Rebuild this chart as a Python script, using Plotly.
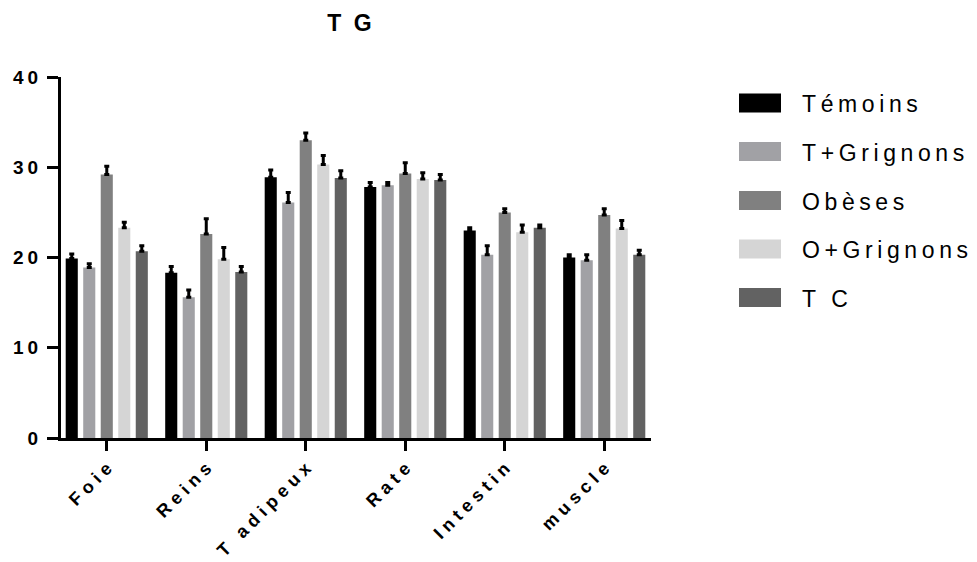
import plotly.graph_objects as go

categories = ["Foie", "Reins", "T adipeux", "Rate", "Intestin", "muscle"]
series_names = ["Témoins", "T+Grignons", "Obèses", "O+Grignons", "T C"]
colors = ["#000000", "#A1A1A5", "#808080", "#D5D5D5", "#626262"]
y_ticks = [0, 10, 20, 30, 40]
title_text = "T G"

temoins = [19.9, 18.3, 28.9, 27.8, 23.0, 20.0]
t_grignons = [18.9, 15.6, 26.1, 28.0, 20.3, 19.7]
obeses = [29.2, 22.6, 33.0, 29.3, 25.0, 24.7]
o_grignons = [23.3, 19.8, 30.3, 28.7, 22.8, 23.2]
tc = [20.7, 18.4, 28.8, 28.6, 23.3, 20.3]

temoins_err = [0.5, 0.7, 0.8, 0.5, 0.3, 0.3]
t_grignons_err = [0.4, 0.8, 1.1, 0.3, 1.0, 0.6]
obeses_err = [0.9, 1.7, 0.8, 1.2, 0.4, 0.7]
o_grignons_err = [0.6, 1.3, 1.0, 0.7, 0.8, 0.9]
tc_err = [0.6, 0.6, 0.8, 0.6, 0.3, 0.5]

values = [temoins, t_grignons, obeses, o_grignons, tc]
errors = [temoins_err, t_grignons_err, obeses_err, o_grignons_err, tc_err]

W, H = 977, 562
L, R, T, B = 61, 326, 77, 124
FONT = "Liberation Sans, Arial, sans-serif"


def spaced(s, px):
    # letter-spacing on all but the last glyph (no trailing gap)
    if len(s) < 2:
        return s
    return f'<span style="letter-spacing:{px}px">{s[:-1]}</span>{s[-1]}'


fig = go.Figure()
for name, col, vals, errs in zip(series_names, colors, values, errors):
    fig.add_trace(go.Bar(
        name=name, x=categories, y=vals,
        marker=dict(color=col, line=dict(width=0)),
        error_y=dict(type="data", symmetric=False, array=errs,
                     arrayminus=[0] * len(errs), color="black",
                     thickness=3, width=2.5),
        showlegend=False,
    ))

# custom legend (wide rectangular swatches like the reference)
pw = W - L - R
ph = H - T - B


def px2paper_x(px):
    return (px - L) / pw


def px2paper_y(py):
    return (H - B - py) / ph


legend_y = [103, 151.5, 200.5, 249, 297.5]
for name, col, cy in zip(series_names, colors, legend_y):
    fig.add_shape(type="rect", xref="paper", yref="paper",
                  x0=px2paper_x(739), x1=px2paper_x(781),
                  y0=px2paper_y(cy - 9.5), y1=px2paper_y(cy + 9.5),
                  fillcolor=col, line=dict(width=0))
    fig.add_annotation(xref="paper", yref="paper",
                       x=px2paper_x(800), y=px2paper_y(cy + 1),
                       xanchor="left", yanchor="middle", showarrow=False,
                       text=spaced(name, 4.6),
                       font=dict(family=FONT, size=23, color="black"))

fig.update_layout(
    width=W, height=H,
    margin=dict(l=L, r=R, t=T, b=B, autoexpand=False),
    paper_bgcolor="white", plot_bgcolor="white",
    barmode="group", bargap=0.12, bargroupgap=0.31,
    title=dict(text="<b>" + spaced(title_text, 3) + "</b>", x=px2paper_x(349.5),
               xref="paper", xanchor="center", y=1 - 23 / H, yanchor="middle",
               font=dict(family=FONT, size=23, color="black")),
    font=dict(family=FONT, color="black"),
)
fig.update_xaxes(
    type="category", range=[-0.46, 5.47],
    tickvals=categories, ticktext=[spaced(c, 5) for c in categories],
    showline=True, linecolor="black", linewidth=3,
    ticks="outside", ticklen=10, tickwidth=3, tickcolor="black",
    tickangle=-45, tickfont=dict(family=FONT, size=18, color="black", weight="bold"),
    showgrid=False, zeroline=False,
)
fig.update_yaxes(
    range=[0, 40], tickvals=y_ticks, ticktext=[spaced(str(v), 4) for v in y_ticks],
    showline=True, linecolor="black", linewidth=3,
    ticks="outside", ticklen=11, tickwidth=3, tickcolor="black",
    ticklabelstandoff=5,
    tickfont=dict(family=FONT, size=19, color="black", weight="bold"),
    showgrid=False, zeroline=False,
)

fig.write_html("out.html")
